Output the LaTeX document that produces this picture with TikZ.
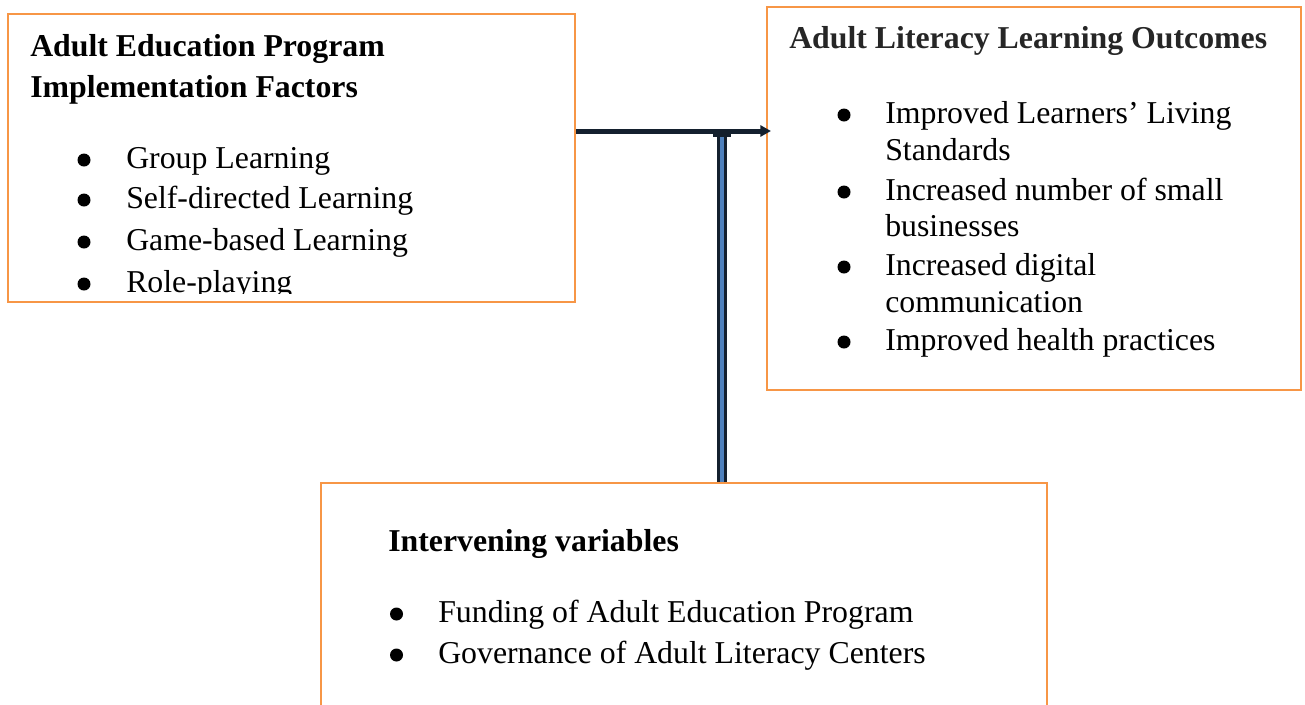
\documentclass[tikz,border=0pt]{standalone}
\usepackage{fontspec}
\setmainfont{Liberation Serif}
\usetikzlibrary{arrows.meta}

\definecolor{boxorange}{HTML}{F79646}
\definecolor{linknavy}{HTML}{14202E}
\definecolor{pipeblue}{HTML}{4F81BD}
\newcommand\figfont{\fontsize{23.85pt}{28pt}\selectfont}

\begin{document}
\begin{tikzpicture}[x=0.75pt, y=-0.75pt,
  frame/.style={draw=boxorange, line width=1.5pt, inner sep=0pt},
  head/.style={anchor=base west, inner sep=0pt, font=\figfont\bfseries},
  entry/.style={anchor=base west, inner sep=0pt, font=\figfont},
  dot/.style={circle, fill=black, minimum size=9.75pt, inner sep=0pt},
  link/.style={draw=linknavy, line width=3.75pt, shorten >=-3.75pt,
               -{Triangle[length=8pt, width=8.25pt]}},
  pipe/.style={draw=linknavy, line width=2.1pt, double=pipeblue, double distance=2.8pt},
  capbar/.style={draw=linknavy, line width=3pt}
]
  \path[use as bounding box, clip] (0,0) rectangle (1305,704);

  % the three boxes
  \node[frame, minimum width=425.25pt, minimum height=216pt] (factors) at (291.5,158) {};
  \node[frame, minimum width=400.5pt, minimum height=287.25pt] (outcomes) at (1034,198.5) {};
  \node[frame, minimum width=544.5pt, minimum height=207.75pt] (intervening) at (684,621.5) {};

  % implementation factors
  \node[head] (factorsTitle) at (30,56) {Adult Education Program};
  \node[head] (factorsTitleB) at (30,97) {Implementation Factors};
  \begin{scope}
    \clip (8,14) rectangle (575,293);
    \foreach \y/\txt [count=\i] in {168/Group Learning, 208/Self-directed Learning,
                                    250/Game-based Learning, 292/Role-playing} {
      \node[dot] (fdot\i) at (84,\y-8) {};
      \node[entry] (fitem\i) at (126,\y) {\txt};
    }
  \end{scope}

  % learning outcomes
  \node[head, text=black!85] (outcomesTitle) at (789,48) {Adult Literacy Learning Outcomes};
  \node[dot] (odot1) at (844,115) {};
  \node[entry] (oitem1) at (885,123) {Improved Learners’ Living};
  \node[entry] (oitem1b) at (885,160) {Standards};
  \node[dot] (odot2) at (844,192) {};
  \node[entry] (oitem2) at (885,200) {Increased number of small};
  \node[entry] (oitem2b) at (885,236) {businesses};
  \node[dot] (odot3) at (844,267) {};
  \node[entry] (oitem3) at (885,275) {Increased digital};
  \node[entry] (oitem3b) at (885,312) {communication};
  \node[dot] (odot4) at (844,342) {};
  \node[entry] (oitem4) at (885,350) {Improved health practices};

  % intervening variables
  \node[head] (interTitle) at (388,551) {Intervening variables};
  \node[dot] (idot1) at (396.5,614) {};
  \node[entry] (iitem1) at (438,622) {Funding of Adult Education Program};
  \node[dot] (idot2) at (396.5,655) {};
  \node[entry] (iitem2) at (438,663) {Governance of Adult Literacy Centers};

  % connectors
  \coordinate (tee) at (722,131);
  \coordinate (teefoot) at (722,135);
  \draw[pipe] (intervening.north -| teefoot) -- (teefoot);
  \draw[capbar] ([xshift=-6.75pt]teefoot) -- ([xshift=6.75pt]teefoot);
  \draw[link] (factors.east |- tee) -- (outcomes.west |- tee);
\end{tikzpicture}
\end{document}
